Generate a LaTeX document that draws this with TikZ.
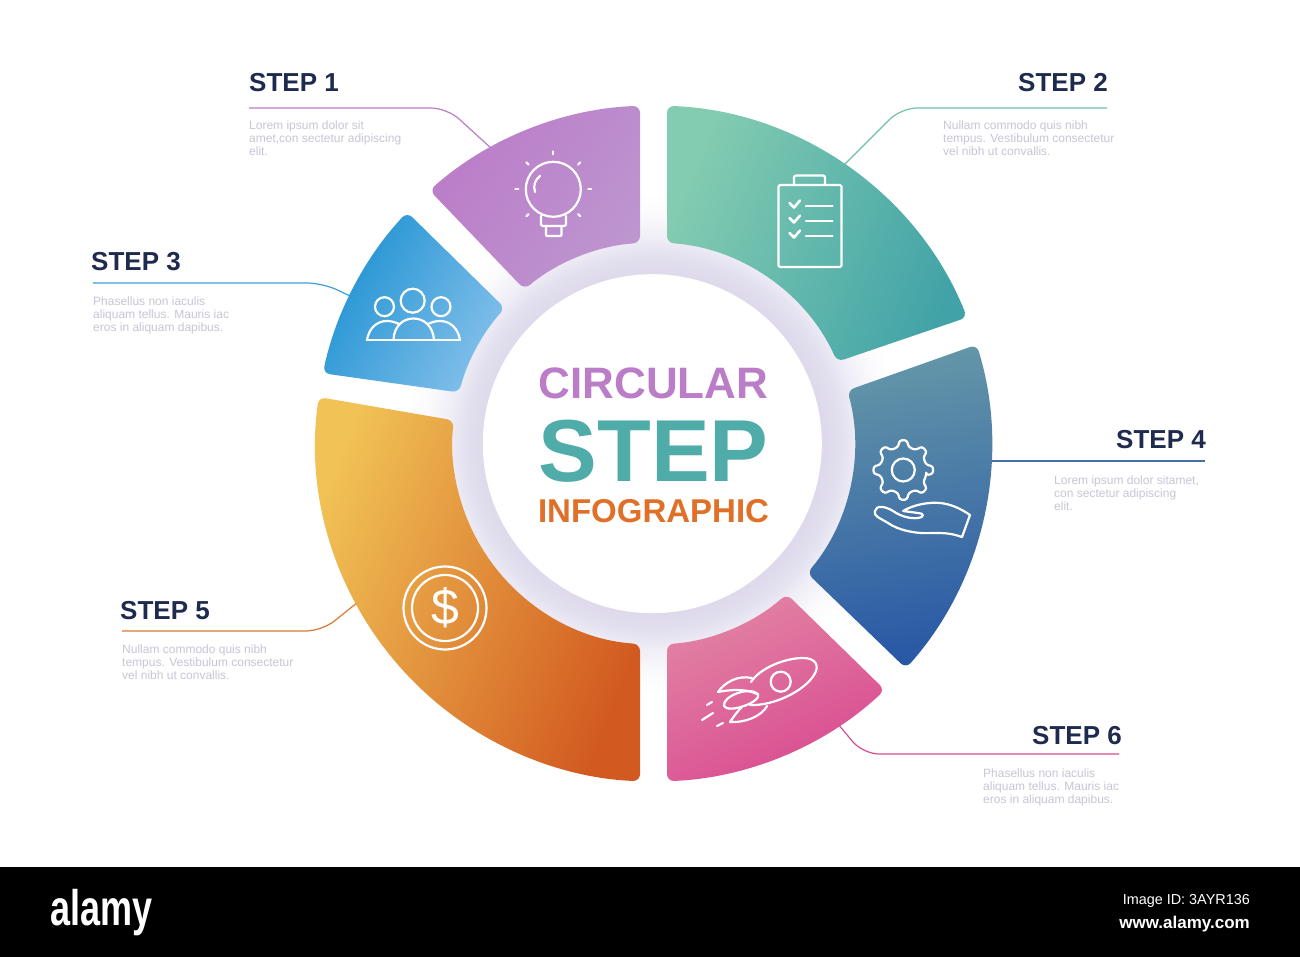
\documentclass[tikz,border=0pt]{standalone}
\usepackage{fontspec}
\setmainfont{Liberation Sans}
\definecolor{inkblue}{HTML}{1E2A4E}
\definecolor{notegrey}{HTML}{C6C6D6}
\definecolor{glowa}{HTML}{DEDAEB}
\definecolor{glowb}{HTML}{E1DEEE}
\definecolor{glowc}{HTML}{EFEDF6}
\definecolor{glowd}{HTML}{FBFBFD}
\definecolor{purpa}{HTML}{BB7CC8}
\definecolor{purpb}{HTML}{BD95CF}
\definecolor{greena}{HTML}{84CCB1}
\definecolor{greenb}{HTML}{41A3A7}
\definecolor{skya}{HTML}{1F92D2}
\definecolor{skyb}{HTML}{82BFEA}
\definecolor{seaa}{HTML}{6597A8}
\definecolor{seab}{HTML}{2857A5}
\definecolor{sunna}{HTML}{F1C356}
\definecolor{sunnb}{HTML}{D25A20}
\definecolor{pinka}{HTML}{E283A4}
\definecolor{pinkb}{HTML}{D94A90}
\definecolor{titlegreen}{HTML}{4FACA9}
\definecolor{titleorange}{HTML}{E07028}
\pgfdeclareradialshading{hubglow}{\pgfpointorigin}{color(0bp)=(glowa); color(17bp)=(glowa); color(18.5bp)=(glowb); color(20.5bp)=(glowc); color(23bp)=(glowd); color(25bp)=(white); color(50bp)=(white)}
\newcommand{\stepsector}[4]{([shift={(hub)}]#1:338pt) arc[start angle=#1,end angle=#2,radius=338pt] -- ([shift={(hub)}]#3:201pt) arc[start angle=#3,end angle=#4,radius=201pt] -- cycle}
\begin{document}
\begin{tikzpicture}[x=1pt,y=-1pt,
steptitle/.style={font=\fontsize{26}{26}\selectfont\bfseries,text=inkblue,inner sep=0pt},
stepnote/.style={font=\fontsize{12}{13}\selectfont,text=notegrey,inner sep=0pt,align=left,anchor=north west},
stepsect/.style={rounded corners=7pt},
stepline/.style={line width=1.2pt,rounded corners=16pt},
iconline/.style={draw=white,line width=2.2pt,line join=round,line cap=round,fill=none},
footmark/.style={text=white,inner sep=0pt}]
\useasboundingbox (0,0) rectangle (1300,957);
\fill[white] (0,0) rectangle (1300,957);
\fill[black] (0,867) rectangle (1300,957);

\coordinate (hub) at (653.5,443.5);
\coordinate (core) at (652.3,443.7);

\shade[shading=hubglow] (hub) circle[radius=250pt];

\coordinate (s1a) at (249,108);
\coordinate (s1b) at (447,108);
\coordinate (s1c) at (492,149);
\coordinate (s2a) at (1107,108);
\coordinate (s2b) at (901,108);
\coordinate (s2c) at (843,166);
\coordinate (s3a) at (93,283);
\coordinate (s3b) at (323,283);
\coordinate (s3c) at (352,297);
\coordinate (s4a) at (1205,461);
\coordinate (s4c) at (990,461);
\coordinate (s5a) at (122,631);
\coordinate (s5b) at (322,631);
\coordinate (s5c) at (358,602);
\coordinate (s6a) at (1119,754);
\coordinate (s6b) at (863,754);
\coordinate (s6c) at (838,724);

\draw[stepline,purpa] (s1a) -- (s1b) -- (s1c);
\draw[stepline,greena!70!greenb] (s2a) -- (s2b) -- (s2c);
\draw[stepline,skya!70!skyb] (s3a) -- (s3b) -- (s3c);
\draw[stepline,seaa!40!seab] (s4a) -- (s4c);
\draw[stepline,sunnb!70!sunna] (s5a) -- (s5b) -- (s5c);
\draw[stepline,pinkb] (s6a) -- (s6b) -- (s6c);

\shade[stepsect,bottom color=purpb,top color=purpa,shading angle=55] \stepsector{131.5}{92.29}{93.85}{129.95};
\shade[stepsect,bottom color=greenb,top color=greena,shading angle=68] \stepsector{87.71}{21.9}{24}{86.15};
\shade[stepsect,bottom color=skyb,top color=skya,shading angle=60] \stepsector{136.8}{168}{165.3}{137.65};
\shade[stepsect,bottom color=seab,top color=seaa,shading angle=10] \stepsector{17}{-41.7}{-40.15}{15.3};
\shade[stepsect,bottom color=sunnb,top color=sunna,shading angle=68] \stepsector{172.1}{267.71}{266.15}{173.4};
\shade[stepsect,bottom color=pinkb,top color=pinka,shading angle=25] \stepsector{272.29}{313.2}{311.5}{273.85};

\fill[white] (core) circle[radius=169.5pt];

\node[font=\fontsize{44}{44}\selectfont\bfseries,text=purpa,inner sep=0pt,anchor=base] (circular) at (653.5,398) {CIRCULAR};
\node[font=\fontsize{88}{88}\selectfont\bfseries,text=titlegreen,inner sep=0pt,anchor=base] (bigstep) at (653.5,481) {STEP};
\node[font=\fontsize{33}{33}\selectfont\bfseries,text=titleorange,inner sep=0pt,anchor=base] (infographic) at (653.5,522) {INFOGRAPHIC};

\node[steptitle,anchor=base west] (step1) at (249,92) {STEP 1};
\node[steptitle,anchor=base east] (step2) at (1108,92) {STEP 2};
\node[steptitle,anchor=base west] (step3) at (91,271) {STEP 3};
\node[steptitle,anchor=base east] (step4) at (1206,448) {STEP 4};
\node[steptitle,anchor=base west] (step5) at (120,619) {STEP 5};
\node[steptitle,anchor=base east] (step6) at (1122,744) {STEP 6};

\node[stepnote] (note1) at (249,121) {Lorem ipsum dolor  sit\\amet,con sectetur  adipiscing\\elit.};
\node[stepnote] (note2) at (943,121) {Nullam commodo quis nibh\\tempus. Vestibulum consectetur\\vel nibh ut convallis.};
\node[stepnote] (note3) at (93,297) {Phasellus non iaculis\\aliquam tellus. Mauris iac\\eros in aliquam dapibus.};
\node[stepnote] (note4) at (1054,476) {Lorem ipsum dolor  sitamet,\\con sectetur  adipiscing\\elit.};
\node[stepnote] (note5) at (122,645) {Nullam commodo quis nibh\\tempus. Vestibulum consectetur\\vel nibh ut convallis.};
\node[stepnote] (note6) at (983,769) {Phasellus non iaculis\\aliquam tellus. Mauris iac\\eros in aliquam dapibus.};

\coordinate (bulb) at (553.3,189.3);
\draw[iconline] (bulb) circle[radius=27.5pt];
\draw[iconline] (535,192) .. controls (533,185) and (535,180) .. (540,176);
\draw[iconline,rounded corners=2pt] (541,216) -- (541,226) -- (566,226) -- (566,216);
\draw[iconline,rounded corners=1pt] (546,226) -- (546,236) -- (561.5,236) -- (561.5,226);
\foreach \a in {0,45,...,315}{
\ifnum\a=270\else
\draw[iconline] ([shift={(bulb)}]\a:35pt) -- ([shift={(bulb)}]\a:38pt);
\fi
}

\draw[iconline,rounded corners=1.5pt] (778.5,185) rectangle (841.5,267);
\draw[iconline,rounded corners=2pt] (794,185) -- (794,175.5) -- (825,175.5) -- (825,185);
\foreach \y in {206,221,236}{
\draw[iconline,line width=2.6pt] (789.5,\y-3) -- (794,\y+1.5) -- (800,\y-5.5);
\draw[iconline] (806,\y) -- (832.5,\y);
}

\draw[iconline] (384.5,306.7) circle[radius=9.5pt];
\draw[iconline] (412.7,300.7) circle[radius=12pt];
\draw[iconline] (441,306.7) circle[radius=9.5pt];
\draw[iconline] (367,340) -- (460,340);
\draw[iconline] (393.5,340) .. controls (394,326) and (403,318.5) .. (413.5,318.5) .. controls (424,318.5) and (433,326) .. (434,340);
\draw[iconline] (367,340) .. controls (369,328) and (377,321) .. (387,321) .. controls (391,321) and (395,322) .. (399,324);
\draw[iconline] (460,340) .. controls (458,328) and (450,321) .. (440,321) .. controls (436,321) and (432,322) .. (428,324);

\coordinate (gear) at (903.3,470);
\draw[iconline,rounded corners=2.6pt] ([shift={(gear)}]-13:23.5pt) \foreach \a in {0,45,...,315}{ -- ([shift={(gear)}]\a-13:23.5pt) -- ([shift={(gear)}]\a-7:30pt) -- ([shift={(gear)}]\a+7:30pt) -- ([shift={(gear)}]\a+13:23.5pt) } -- cycle;
\draw[iconline] (gear) circle[radius=11.5pt];
\draw[iconline] (970,515) -- (962,537) .. controls (950,533) and (945,533) .. (932,533) .. controls (915,534) and (898,530) .. (888,523) .. controls (880,518) and (873,516) .. (875,511) .. controls (876,505) and (885,506) .. (893,511) .. controls (900,516) and (910,519) .. (918,518) .. controls (925,517) and (924,513) .. (918,513) -- (903,511) .. controls (915,504) and (930,502) .. (940,503) .. controls (950,504) and (960,508) .. (970,515) -- cycle;

\draw[iconline] (751,682) .. controls (760,668) and (785,658) .. (803,658) .. controls (816,658) and (820,666) .. (814,675) .. controls (805,690) and (775,706) .. (750,705);
\draw[iconline] (780.7,681.7) circle[radius=10pt];
\draw[iconline] (752,678) .. controls (738,675) and (725,682) .. (718,692) .. controls (728,690) and (745,688) .. (757,694);
\draw[iconline] (724,706) .. controls (722,696) and (750,686) .. (758,694) .. controls (762,702) and (728,714) .. (724,706);
\draw[iconline] (767,706) .. controls (762,716) and (745,723) .. (730,722) .. controls (734,716) and (737,712) .. (741,708);
\draw[iconline] (707,705) -- (712,702);
\draw[iconline] (702,720) -- (713,713);
\draw[iconline] (717,726) -- (723,723);

\coordinate (coin) at (445,608);
\draw[iconline] (coin) circle[radius=41.5pt];
\draw[iconline] (coin) circle[radius=33pt];
\node[font=\fontsize{50}{50}\selectfont,text=white,inner sep=0pt] (dollar) at (coin) {\$};

\node[footmark,font=\fontsize{50}{50}\selectfont\bfseries,xscale=.72,transform shape,anchor=base west] (alamy) at (50,925) {alamy};
\node[footmark,font=\fontsize{14.4}{14.4}\selectfont,anchor=base east] (imageid) at (1250,904) {Image ID: 3AYR136};
\node[footmark,font=\fontsize{17}{17}\selectfont\bfseries,anchor=base east] (alamyweb) at (1250,928) {www.alamy.com};
\end{tikzpicture}
\end{document}
